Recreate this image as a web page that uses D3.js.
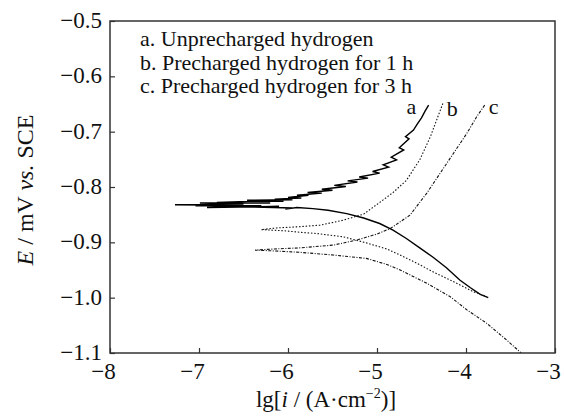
<!DOCTYPE html>
<html>
<head>
<meta charset="utf-8">
<script src="https://cdn.jsdelivr.net/npm/d3@7"></script>
<style>
  body { margin: 0; background: #fff; }
  text { font-family: "Liberation Serif", "Times New Roman", serif; fill: #111; }
</style>
</head>
<body>
<div id="chart"></div>
<script>

// polarization curves, [lg i, E]
const curveA = [
    [-3.75, -1.000], [-3.84, -0.994], [-3.95, -0.982], [-4.07, -0.968], [-4.22, -0.946],
    [-4.37, -0.927], [-4.52, -0.910], [-4.67, -0.893], [-4.82, -0.878], [-4.97, -0.866],
    [-5.15, -0.856], [-5.34, -0.848], [-5.55, -0.842], [-5.72, -0.839], [-5.90, -0.837],
    [-6.03, -0.840], [-5.95, -0.838], [-6.40, -0.836], [-6.10, -0.835], [-6.91, -0.837],
    [-6.30, -0.834], [-7.04, -0.834], [-6.60, -0.833], [-7.27, -0.832], [-6.50, -0.831],
    [-6.99, -0.829], [-6.20, -0.829], [-6.80, -0.828], [-6.46, -0.826], [-6.05, -0.826],
    [-6.46, -0.824], [-5.95, -0.823], [-6.15, -0.822], [-5.85, -0.820], [-6.00, -0.819],
    [-5.77, -0.815], [-5.90, -0.815], [-5.62, -0.811], [-5.78, -0.810], [-5.50, -0.806],
    [-5.62, -0.804], [-5.35, -0.799], [-5.48, -0.797], [-5.22, -0.791], [-5.33, -0.789],
    [-5.10, -0.784], [-5.20, -0.782], [-4.97, -0.775], [-5.05, -0.772], [-4.87, -0.764],
    [-4.93, -0.760], [-4.78, -0.751], [-4.84, -0.746], [-4.70, -0.733], [-4.75, -0.729],
    [-4.64, -0.713], [-4.68, -0.709], [-4.59, -0.697], [-4.55, -0.687], [-4.50, -0.675],
    [-4.46, -0.663], [-4.42, -0.652]
];

const curveB = [
    [-4.26, -0.649], [-4.33, -0.679], [-4.40, -0.709], [-4.52, -0.751], [-4.67, -0.788],
    [-4.82, -0.810], [-4.97, -0.828], [-5.15, -0.849], [-5.38, -0.860], [-5.64, -0.869],
    [-5.90, -0.872], [-6.13, -0.874], [-6.30, -0.877], [-6.05, -0.879], [-5.85, -0.882],
    [-5.68, -0.884], [-5.38, -0.890], [-5.12, -0.901], [-4.89, -0.912], [-4.74, -0.923],
    [-4.55, -0.938], [-4.35, -0.955], [-4.18, -0.968], [-3.92, -0.989], [-3.77, -0.998]
];

const curveC = [
    [-3.79, -0.652], [-3.88, -0.673], [-3.99, -0.703], [-4.14, -0.739], [-4.29, -0.775],
    [-4.44, -0.811], [-4.63, -0.851], [-4.74, -0.863], [-4.85, -0.875], [-5.00, -0.885],
    [-5.23, -0.896], [-5.49, -0.905], [-5.87, -0.910], [-6.15, -0.912], [-6.37, -0.914],
    [-6.10, -0.916], [-5.87, -0.918], [-5.49, -0.923], [-5.12, -0.929], [-4.89, -0.940],
    [-4.74, -0.950], [-4.44, -0.974], [-4.18, -0.998], [-3.99, -1.022], [-3.77, -1.046],
    [-3.54, -1.077], [-3.38, -1.100]
];

const curveNames = ["a", "b", "c"];
const legendLabels = [
    "a. Unprecharged hydrogen",
    "b. Precharged hydrogen for 1 h",
    "c. Precharged hydrogen for 3 h"
];

const xTicks = [-8, -7, -6, -5, -4, -3];
const yTicks = [-0.5, -0.6, -0.7, -0.8, -0.9, -1.0, -1.1];

const width = 564;
const height = 419;
const margin = {top: 21, left: 110, right: 9, bottom: 66};

const svg = d3.select("#chart")
    .append("svg")
    .attr("width", width)
    .attr("height", height);

const xScale = d3.scaleLinear()
    .domain([-8, -3])
    .range([margin.left, width - margin.right]);

const yScale = d3.scaleLinear()
    .domain([-1.1, -0.5])
    .range([height - margin.bottom, margin.top]);

const fmtMinus = s => s.replace("-", "\u2212");

// clip so the c branch stops at the frame
svg.append("clipPath")
    .attr("id", "plotClip")
    .append("rect")
    .attr("x", margin.left)
    .attr("y", margin.top)
    .attr("width", width - margin.left - margin.right)
    .attr("height", height - margin.top - margin.bottom);

const line = d3.line()
    .x(d => xScale(d[0]))
    .y(d => yScale(d[1]));

const plot = svg.append("g").attr("clip-path", "url(#plotClip)");

plot.append("path")
    .datum(curveA)
    .attr("d", line)
    .attr("fill", "none")
    .attr("stroke", "#000")
    .attr("stroke-width", 1.4);

plot.append("path")
    .datum(curveB)
    .attr("d", line)
    .attr("fill", "none")
    .attr("stroke", "#111")
    .attr("stroke-width", 1.1)
    .attr("stroke-dasharray", "1.5,1.8");

plot.append("path")
    .datum(curveC)
    .attr("d", line)
    .attr("fill", "none")
    .attr("stroke", "#111")
    .attr("stroke-width", 1.1)
    .attr("stroke-dasharray", "3,1.5,1,1.5");

// curve letters at the top ends
const ends = [curveA[curveA.length - 1], curveB[0], curveC[0]];
const offs = [[-22, 9], [4, 13], [4, 9]];
ends.forEach((p, i) => {
    svg.append("text")
        .attr("x", xScale(p[0]) + offs[i][0])
        .attr("y", yScale(p[1]) + offs[i][1])
        .attr("font-size", 22)
        .text(curveNames[i]);
});

// legend
svg.selectAll(".legend")
    .data(legendLabels)
    .enter()
    .append("text")
    .attr("class", "legend")
    .attr("x", 140)
    .attr("y", (d, i) => 46 + i * 23.5)
    .attr("font-size", 22)
    .text(d => d);

// axes, ticks pointing inward
const xAxis = svg.append("g")
    .attr("transform", `translate(0,${height - margin.bottom})`)
    .call(d3.axisBottom(xScale).tickValues(xTicks).tickSizeInner(-5).tickSizeOuter(0)
        .tickPadding(10).tickFormat(d => fmtMinus(String(d))));

xAxis.selectAll(".tick text").attr("dx", -7);

const yAxis = svg.append("g")
    .attr("transform", `translate(${margin.left},0)`)
    .call(d3.axisLeft(yScale).tickValues(yTicks).tickSizeInner(-5).tickSizeOuter(0)
        .tickPadding(8).tickFormat(d => fmtMinus(d3.format(".1f")(d))));

svg.selectAll(".tick text")
    .style("font-family", "'Liberation Serif', serif")
    .attr("font-size", 23)
    .attr("fill", "#111");
yAxis.selectAll(".tick text").attr("dy", "0.28em");
svg.selectAll(".tick line").attr("stroke", "#333").attr("stroke-width", 1.2);
svg.selectAll(".domain").remove();

// frame
svg.append("rect")
    .attr("x", margin.left)
    .attr("y", margin.top)
    .attr("width", width - margin.left - margin.right)
    .attr("height", height - margin.top - margin.bottom)
    .attr("fill", "none")
    .attr("stroke", "#333")
    .attr("stroke-width", 1.5);

// axis titles
const xTitle = svg.append("text")
    .attr("x", 326)
    .attr("y", 407)
    .attr("text-anchor", "middle")
    .attr("font-size", 23);
xTitle.append("tspan").text("lg[");
xTitle.append("tspan").attr("font-style", "italic").text("i");
xTitle.append("tspan").text(" / (A\u00b7cm");
xTitle.append("tspan").attr("font-size", 14).attr("dy", -9).text("\u22122");
xTitle.append("tspan").attr("dy", 9).text(")]");

const yTitle = svg.append("text")
    .attr("transform", `translate(33,190) rotate(-90)`)
    .attr("text-anchor", "middle")
    .attr("font-size", 24);
yTitle.append("tspan").attr("font-style", "italic").text("E");
yTitle.append("tspan").text(" / mV ");
yTitle.append("tspan").attr("font-style", "italic").text("vs.");
yTitle.append("tspan").text(" SCE");

</script>
</body>
</html>
